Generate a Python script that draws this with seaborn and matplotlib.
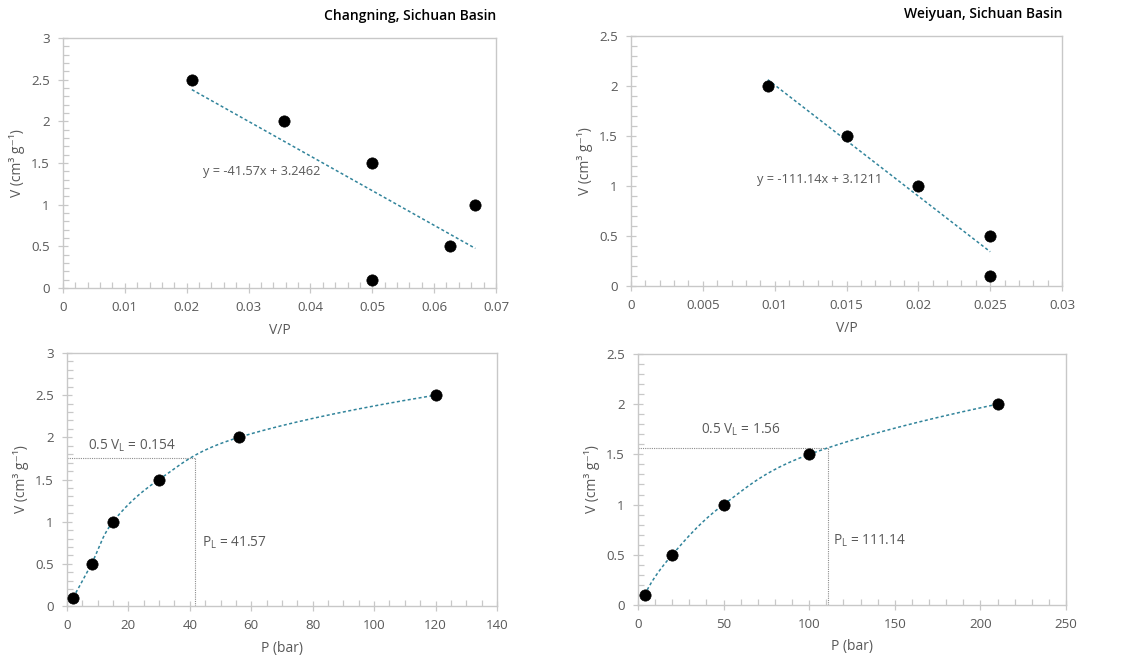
import numpy as np
import pandas as pd
import matplotlib
matplotlib.use("Agg")
import matplotlib.pyplot as plt
from matplotlib.ticker import MultipleLocator, FuncFormatter
import seaborn as sns

# ---- data -------------------------------------------------------------
# Changning adsorption points
cn_p = [2, 8, 15, 30, 56, 120]            # pressure, bar
cn_v = [0.1, 0.5, 1.0, 1.5, 2.0, 2.5]     # adsorbed volume, cm3/g
cn_slope, cn_icpt = -41.57, 3.2462
cn_pl = 41.57
cn_half_level = 1.75

# Weiyuan adsorption points
wy_p = [4, 20, 50, 100, 210]
wy_v = [0.1, 0.5, 1.0, 1.5, 2.0]
wy_slope, wy_icpt = -111.14, 3.1211
wy_pl = 111.14
wy_half_level = 1.56

titles = ["Changning, Sichuan Basin", "Weiyuan, Sichuan Basin"]
eq_labels = ["y = -41.57x + 3.2462", "y = -111.14x + 3.1211"]
vl_labels = ["0.5 V$_\\mathregular{L}$ = 0.154", "0.5 V$_\\mathregular{L}$ = 1.56"]
pl_labels = ["P$_\\mathregular{L}$ = 41.57", "P$_\\mathregular{L}$ = 111.14"]

# ---- style ------------------------------------------------------------
sns.set_theme(style="white")
plt.rcParams["font.family"] = ["Open Sans", "DejaVu Sans"]
plt.rcParams["mathtext.fontset"] = "custom"
plt.rcParams["mathtext.rm"] = "Open Sans"
TXT = "#595959"
SPINE = "#c8c8c8"
FIT = "#31849b"
GUIDE = "#8c8c8c"


def smooth(xs, ys, xr, yr, n=40):
    """Piecewise cubic Bezier through the points (Catmull-Rom tangents inside,
    parabolic run-out on the first and last segments)."""
    pts = np.column_stack([np.asarray(xs, float) / xr, np.asarray(ys, float) / yr])
    m = len(pts)
    tang = np.zeros_like(pts)
    for i in range(1, m - 1):
        tang[i] = (pts[i + 1] - pts[i - 1]) / 2
    tang[0] = 2 * (pts[1] - pts[0]) - tang[1]
    tang[-1] = 2 * (pts[-1] - pts[-2]) - tang[-2]
    t = np.linspace(0, 1, n)[:, None]
    out = []
    for i in range(m - 1):
        p1, p2 = pts[i], pts[i + 1]
        c1 = p1 + tang[i] / 3
        c2 = p2 - tang[i + 1] / 3
        seg = ((1 - t) ** 3) * p1 + 3 * ((1 - t) ** 2) * t * c1 + 3 * (1 - t) * t ** 2 * c2 + t ** 3 * p2
        out.append(seg if i == 0 else seg[1:])
    out = np.vstack(out)
    return out[:, 0] * xr, out[:, 1] * yr


def fmt(v, _):
    return f"{v:g}"


def style_axes(ax, xmax, ymax, xmaj, xmin, ymaj, ymin):
    ax.set_xlim(0, xmax)
    ax.set_ylim(0, ymax)
    ax.xaxis.set_major_locator(MultipleLocator(xmaj))
    ax.xaxis.set_minor_locator(MultipleLocator(xmin))
    ax.yaxis.set_major_locator(MultipleLocator(ymaj))
    ax.yaxis.set_minor_locator(MultipleLocator(ymin))
    ax.xaxis.set_major_formatter(FuncFormatter(fmt))
    ax.yaxis.set_major_formatter(FuncFormatter(fmt))
    for s in ax.spines.values():
        s.set_color(SPINE)
        s.set_linewidth(1.0)
    ax.tick_params(axis="both", which="major", direction="inout", length=7,
                   width=0.9, color=SPINE, labelcolor=TXT, labelsize=9.6, pad=6)
    ax.tick_params(axis="both", which="minor", direction="in", length=4,
                   width=0.9, color=SPINE)
    ax.tick_params(bottom=True, left=True, which="both")
    ax.set_ylabel("V (cm³ g⁻¹)", color=TXT, fontsize=10, labelpad=4)


fig = plt.figure(figsize=(11.29, 6.64), dpi=100)
ax_tl = fig.add_axes([0.0558, 0.5663, 0.3835, 0.3765])
ax_tr = fig.add_axes([0.5589, 0.5693, 0.3818, 0.3765])
ax_bl = fig.add_axes([0.0593, 0.0873, 0.3809, 0.3811])
ax_br = fig.add_axes([0.5651, 0.0889, 0.3791, 0.3780])

sites = [
    dict(p=cn_p, v=cn_v, a=cn_slope, b=cn_icpt, pl=cn_pl, lvl=cn_half_level,
         top=ax_tl, bot=ax_bl,
         top_lim=(0.07, 3, 0.01, 0.002, 0.5, 0.1),
         bot_lim=(140, 3, 20, 5, 0.5, 0.1),
         eq_pos=(0.0226, 1.40), vl_pos=(6.8, 1.90), pl_pos=(44.0, 0.75)),
    dict(p=wy_p, v=wy_v, a=wy_slope, b=wy_icpt, pl=wy_pl, lvl=wy_half_level,
         top=ax_tr, bot=ax_br,
         top_lim=(0.03, 2.5, 0.005, 0.001, 0.5, 0.1),
         bot_lim=(250, 2.5, 50, 10, 0.5, 0.1),
         eq_pos=(0.0088, 1.067), vl_pos=(36.6, 1.74), pl_pos=(113.9, 0.64)),
]

for k, s in enumerate(sites):
    df = pd.DataFrame({"P": s["p"], "V": s["v"]})
    df["VP"] = df["V"] / df["P"]

    # V against V/P with linear fit
    ax = s["top"]
    xs = np.array([df["VP"].min(), df["VP"].max()])
    fit = pd.DataFrame({"x": xs, "y": s["a"] * xs + s["b"]})
    sns.lineplot(data=fit, x="x", y="y", ax=ax, color=FIT, lw=1.1,
                 linestyle=(0, (2, 1.6)), zorder=2)
    sns.scatterplot(data=df, x="VP", y="V", ax=ax, color="black", s=66,
                    edgecolor="black", linewidth=0.5, zorder=3)
    style_axes(ax, *s["top_lim"])
    ax.set_xlabel("V/P", color=TXT, fontsize=10, labelpad=6)
    ax.text(*s["eq_pos"], eq_labels[k], color=TXT, fontsize=9.2, va="center", ha="left")
    ax.text(1.0, 1.06, titles[k], transform=ax.transAxes, ha="right", va="bottom",
            fontsize=10, fontweight="semibold", color="black")

    # V against P with smoothed isotherm
    ax = s["bot"]
    cx, cy = smooth(s["p"], s["v"], s["bot_lim"][0], s["bot_lim"][1])
    curve = pd.DataFrame({"x": cx, "y": cy})
    sns.lineplot(data=curve, x="x", y="y", ax=ax, sort=False, color=FIT, lw=1.1,
                 linestyle=(0, (2, 1.6)), zorder=2)
    sns.scatterplot(data=df, x="P", y="V", ax=ax, color="black", s=66,
                    edgecolor="black", linewidth=0.5, zorder=3)
    ax.plot([0, s["pl"]], [s["lvl"], s["lvl"]], color=GUIDE, lw=0.8, linestyle=(0, (1, 1)), zorder=1)
    ax.plot([s["pl"], s["pl"]], [0, s["lvl"]], color=GUIDE, lw=0.8, linestyle=(0, (1, 1)), zorder=1)
    style_axes(ax, *s["bot_lim"])
    ax.set_xlabel("P (bar)", color=TXT, fontsize=10, labelpad=6)
    ax.text(*s["vl_pos"], vl_labels[k], color=TXT, fontsize=9.8, va="center", ha="left")
    ax.text(*s["pl_pos"], pl_labels[k], color=TXT, fontsize=9.8, va="center", ha="left")

fig.savefig("out.png", dpi=100)
